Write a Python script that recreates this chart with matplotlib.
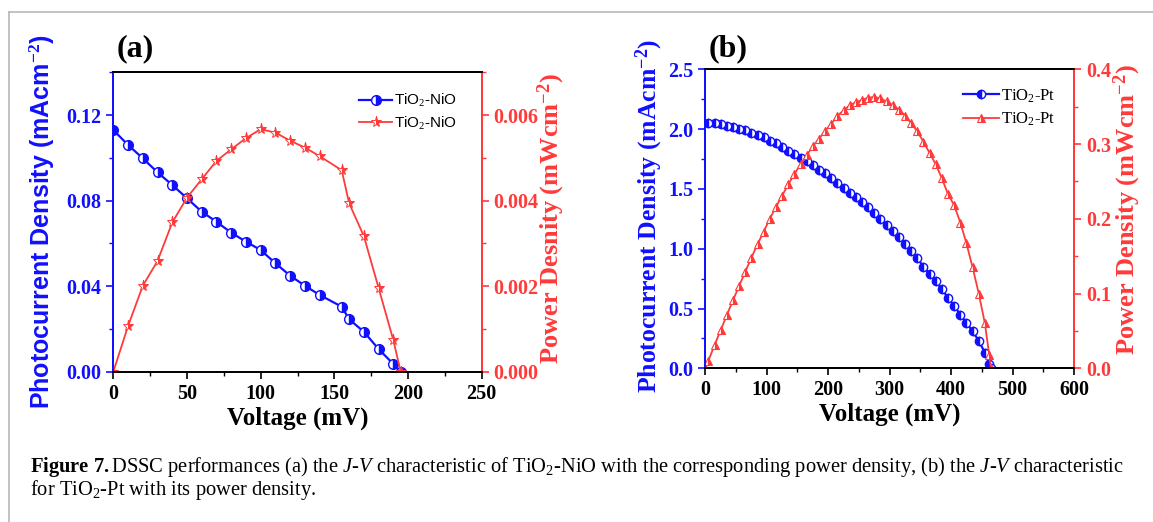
import matplotlib
matplotlib.use("Agg")
import matplotlib.pyplot as plt
from matplotlib.lines import Line2D
from matplotlib.ticker import MultipleLocator

plt.rcParams['mathtext.fontset'] = 'custom'
plt.rcParams['mathtext.rm'] = 'Liberation Serif'
plt.rcParams['mathtext.it'] = 'Liberation Serif:italic'
plt.rcParams['mathtext.bf'] = 'Liberation Serif:bold'

# panel (a): TiO2-NiO
v_a = [0, 10, 20, 30, 40, 50, 60, 70, 80, 90, 100, 110, 120, 130, 140, 155, 160, 170, 180, 190, 195]
j_a = [0.113, 0.106, 0.0998, 0.0932, 0.0873, 0.0811, 0.0748, 0.0701, 0.065, 0.0608, 0.0569,
       0.0507, 0.0449, 0.0402, 0.0359, 0.0304, 0.0245, 0.0187, 0.0106, 0.0036, 0.0]
p_a = [0.0, 0.00107, 0.00201, 0.00259, 0.00349, 0.00407, 0.0045, 0.00493, 0.0052, 0.00546, 0.00567,
       0.00559, 0.0054, 0.00524, 0.00504, 0.00471, 0.00394, 0.00317, 0.00196, 0.00074, 0.0]

# panel (b): TiO2-Pt
v_b = [5, 15, 25, 35, 45, 55, 65, 75, 85, 95, 105, 115, 125, 135, 145, 155, 165, 175, 185, 195,
       205, 215, 225, 235, 245, 255, 265, 275, 285, 295, 305, 315, 325, 335, 345, 355, 365, 375,
       385, 395, 405, 415, 425, 435, 445, 455, 462, 465]
j_b = [2.05, 2.05, 2.04, 2.03, 2.02, 2.00, 1.99, 1.97, 1.95, 1.93, 1.90, 1.88, 1.85, 1.82, 1.79,
       1.76, 1.73, 1.70, 1.66, 1.63, 1.59, 1.55, 1.51, 1.47, 1.43, 1.39, 1.35, 1.30, 1.25, 1.20,
       1.15, 1.10, 1.04, 0.98, 0.92, 0.85, 0.79, 0.73, 0.66, 0.59, 0.52, 0.45, 0.38, 0.31, 0.23,
       0.13, 0.04, 0.0]
vp_b = [0] + v_b
p_b = [0.0, 0.010, 0.031, 0.051, 0.071, 0.091, 0.110, 0.129, 0.148, 0.166, 0.183, 0.200, 0.216,
       0.231, 0.246, 0.260, 0.273, 0.285, 0.297, 0.307, 0.318, 0.327, 0.338, 0.345, 0.352, 0.356,
       0.359, 0.362, 0.363, 0.361, 0.357, 0.352, 0.346, 0.338, 0.328, 0.317, 0.303, 0.288, 0.273,
       0.254, 0.233, 0.218, 0.195, 0.167, 0.135, 0.100, 0.060, 0.018, 0.0]

BLUE = '#1010ff'
RED = '#ff3a3a'
SERIF = 'Liberation Serif'
SANS = 'Liberation Sans'

fig = plt.figure(figsize=(11.53, 5.22), dpi=100)

# light frame of the figure page
fig.add_artist(Line2D([9/1153, 1.0], [1 - 12/522, 1 - 12/522], color='#b8b8b8', lw=1.2))
fig.add_artist(Line2D([9/1153, 9/1153], [0, 1 - 12/522], color='#b8b8b8', lw=1.2))


def style_axes(ax, ax2):
    for a in (ax, ax2):
        a.spines['top'].set_color('black')
        a.spines['bottom'].set_color('black')
        a.spines['left'].set_color(BLUE)
        a.spines['right'].set_color(RED)
        for s in a.spines.values():
            s.set_linewidth(1.3)
    ax.tick_params(axis='y', which='both', colors=BLUE, direction='out')
    ax.tick_params(axis='x', which='both', colors='black', direction='out')
    ax2.tick_params(axis='y', which='both', colors=RED, direction='out')
    ax.tick_params(which='major', length=5, width=1.2)
    ax.tick_params(which='minor', length=3, width=1.0)
    ax2.tick_params(which='major', length=5, width=1.2)
    ax2.tick_params(which='minor', length=3, width=1.0)
    for lab in ax.get_xticklabels() + ax.get_yticklabels() + ax2.get_yticklabels():
        lab.set_fontfamily(SERIF)
        lab.set_fontweight('bold')
        lab.set_fontsize(14.5)
    for lab in ax.get_yticklabels():
        lab.set_color(BLUE)
    for lab in ax2.get_yticklabels():
        lab.set_color(RED)


# ---- panel (a)
ax = fig.add_axes([0.0983, 0.2879, 0.3195, 0.5736])
ax2 = ax.twinx()
l1, = ax.plot(v_a, j_a, color=BLUE, lw=1.6, marker='o', ms=7, fillstyle='right',
              markerfacecoloralt='white', mec=BLUE, mew=1.0, label='TiO$_2$-NiO')
l2, = ax2.plot(v_a, p_a, color=RED, lw=1.3, marker='*', ms=8, fillstyle='right',
               markerfacecoloralt='white', mec=RED, mew=0.7, label='TiO$_2$-NiO')
ax.set_xlim(0, 250)
ax.set_ylim(0, 0.14)
ax2.set_ylim(0, 0.007)
ax.xaxis.set_major_locator(MultipleLocator(50))
ax.xaxis.set_minor_locator(MultipleLocator(25))
ax.yaxis.set_major_locator(MultipleLocator(0.04))
ax.yaxis.set_minor_locator(MultipleLocator(0.02))
ax2.yaxis.set_major_locator(MultipleLocator(0.002))
ax2.yaxis.set_minor_locator(MultipleLocator(0.001))
ax.set_yticks([0, 0.04, 0.08, 0.12])
ax.set_yticklabels(['0.00', '0.04', '0.08', '0.12'])
ax2.set_yticks([0, 0.002, 0.004, 0.006])
ax2.set_yticklabels(['0.000', '0.002', '0.004', '0.006'])
style_axes(ax, ax2)
ax.set_xlabel('Voltage (mV)', fontfamily=SERIF, fontweight='bold', fontsize=18, labelpad=2)
ax.set_ylabel('Photocurrent Density (mAcm$^{\\mathbf{-2}}$)', fontfamily=SANS, fontweight='bold',
              fontsize=18, color=BLUE)
ax.yaxis.set_label_coords(-0.153, 0.5)
ax2.set_ylabel('Power Desnity (mWcm$^{\\mathbf{-2}}$)', fontfamily=SERIF, fontweight='bold',
               fontsize=19, color=RED)
ax2.yaxis.set_label_coords(1.147, 0.51)
ax.text(0.01, 1.03, '(a)', transform=ax.transAxes, fontfamily=SERIF, fontweight='bold',
        fontsize=23, va='bottom', ha='left')
ax2.legend(handles=[l1, l2], loc='upper right', bbox_to_anchor=(0.97, 0.98), frameon=False,
           prop={'family': SANS, 'size': 11}, handlelength=2.2, handletextpad=0.1,
           labelspacing=0.35)

# ---- panel (b)
bx = fig.add_axes([0.6117, 0.2944, 0.3198, 0.5728])
bx2 = bx.twinx()
m1, = bx.plot(v_b, j_b, color=BLUE, lw=1.6, marker='o', ms=6, fillstyle='left',
              markerfacecoloralt='white', mec=BLUE, mew=1.0, label='TiO$_2$-Pt')
m2, = bx2.plot(vp_b, p_b, color=RED, lw=1.3, marker='^', ms=6, fillstyle='right',
               markerfacecoloralt='white', mec=RED, mew=0.8, label='TiO$_2$-Pt')
bx.set_xlim(0, 600)
bx.set_ylim(0, 2.5)
bx2.set_ylim(0, 0.4)
bx.xaxis.set_major_locator(MultipleLocator(100))
bx.xaxis.set_minor_locator(MultipleLocator(50))
bx.yaxis.set_major_locator(MultipleLocator(0.5))
bx.yaxis.set_minor_locator(MultipleLocator(0.25))
bx2.yaxis.set_major_locator(MultipleLocator(0.1))
bx2.yaxis.set_minor_locator(MultipleLocator(0.05))
style_axes(bx, bx2)
bx.set_xlabel('Voltage (mV)', fontfamily=SERIF, fontweight='bold', fontsize=18, labelpad=2)
bx.set_ylabel('Photocurrent Density (mAcm$^{\\mathbf{-2}}$)', fontfamily=SERIF, fontweight='bold',
              fontsize=18.5, color=BLUE)
bx.yaxis.set_label_coords(-0.109, 0.51)
bx2.set_ylabel('Power Density (mWcm$^{\\mathbf{-2}}$)', fontfamily=SERIF, fontweight='bold',
               fontsize=19, color=RED)
bx2.yaxis.set_label_coords(1.103, 0.53)
bx.text(0.01, 1.02, '(b)', transform=bx.transAxes, fontfamily=SERIF, fontweight='bold',
        fontsize=23, va='bottom', ha='left')
bx2.legend(handles=[m1, m2], loc='upper right', bbox_to_anchor=(0.99, 0.99), frameon=False,
           prop={'family': SERIF, 'size': 12}, handlelength=2.2, handletextpad=0.1,
           labelspacing=0.35)

# ---- caption
cap1 = (r"$\mathbf{Figure\ 7.}$DSSC performances (a) the $\it{J}$-$\it{V}$ characteristic of "
        r"TiO$_2$-NiO with the corresponding power density, (b) the $\it{J}$-$\it{V}$ characteristic")
cap2 = r"for TiO$_2$-Pt with its power density."
fig.text(30/1153, 1 - 467/522, cap1, fontfamily=SERIF, fontsize=14.8, va='center', ha='left')
fig.text(30/1153, 1 - 490/522, cap2, fontfamily=SERIF, fontsize=14.8, va='center', ha='left')

fig.savefig('out.png', dpi=100)
